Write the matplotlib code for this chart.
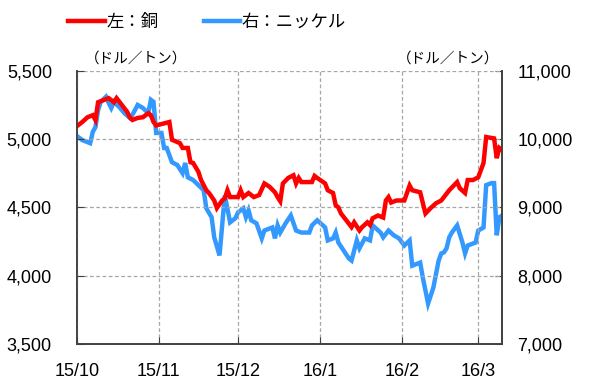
import pandas as pd
import matplotlib.pyplot as plt
from matplotlib.ticker import FuncFormatter, MultipleLocator
from matplotlib.lines import Line2D

plt.rcParams['font.family'] = ['Liberation Sans', 'Noto Sans CJK JP', 'DejaVu Sans']

# 銅 (左軸, ドル/トン)
copper_dates = [
    '2015-10-01', '2015-10-03', '2015-10-05', '2015-10-07', '2015-10-08', '2015-10-09',
    '2015-10-11', '2015-10-13', '2015-10-15', '2015-10-16', '2015-10-18', '2015-10-20',
    '2015-10-21', '2015-10-22', '2015-10-24', '2015-10-26', '2015-10-28', '2015-10-29',
    '2015-10-30', '2015-10-31', '2015-11-03', '2015-11-05', '2015-11-06', '2015-11-09',
    '2015-11-10', '2015-11-12', '2015-11-13', '2015-11-14', '2015-11-16', '2015-11-17',
    '2015-11-19', '2015-11-20', '2015-11-22', '2015-11-23', '2015-11-25', '2015-11-26',
    '2015-11-27', '2015-11-28', '2015-11-30', '2015-12-01', '2015-12-02', '2015-12-03',
    '2015-12-05', '2015-12-07', '2015-12-09', '2015-12-11', '2015-12-13', '2015-12-15',
    '2015-12-16', '2015-12-17', '2015-12-18', '2015-12-20', '2015-12-22', '2015-12-23',
    '2015-12-24', '2015-12-25', '2015-12-29', '2015-12-30', '2015-12-31', '2016-01-03',
    '2016-01-04', '2016-01-06', '2016-01-07', '2016-01-08', '2016-01-09', '2016-01-11',
    '2016-01-13', '2016-01-14', '2016-01-16', '2016-01-17', '2016-01-19', '2016-01-20',
    '2016-01-21', '2016-01-23', '2016-01-25', '2016-01-26', '2016-01-27', '2016-01-28',
    '2016-01-30', '2016-02-02', '2016-02-04', '2016-02-05', '2016-02-08', '2016-02-10',
    '2016-02-12', '2016-02-14', '2016-02-16', '2016-02-17', '2016-02-19', '2016-02-22',
    '2016-02-23', '2016-02-25', '2016-02-26', '2016-02-28', '2016-03-01', '2016-03-03',
    '2016-03-04', '2016-03-07', '2016-03-08', '2016-03-09', '2016-03-10',
]
copper = [
    5095, 5125, 5160, 5175, 5140, 5270,
    5285, 5300, 5270, 5300, 5250, 5200,
    5160, 5140, 5155, 5160, 5190, 5175,
    5125, 5100, 5115, 5125, 4995, 4970,
    4935, 4935, 4830, 4825, 4760, 4700,
    4625, 4605, 4550, 4495, 4550, 4565,
    4625, 4575, 4575, 4575, 4625, 4575,
    4605, 4575, 4590, 4675, 4650, 4610,
    4575, 4545, 4675, 4715, 4735, 4675,
    4715, 4685, 4685, 4730, 4715, 4675,
    4625, 4605, 4515, 4500, 4455, 4405,
    4355, 4390, 4330, 4355, 4390, 4370,
    4420, 4440, 4425, 4550, 4575, 4535,
    4550, 4550, 4660, 4625, 4610, 4455,
    4495, 4530, 4550, 4575, 4625, 4685,
    4640, 4605, 4700, 4700, 4720, 4825,
    5015, 5005, 4860, 4935, 4920,
]

# ニッケル (右軸, ドル/トン)
nickel_dates = [
    '2015-10-01', '2015-10-03', '2015-10-06', '2015-10-07', '2015-10-08', '2015-10-09',
    '2015-10-10', '2015-10-12', '2015-10-13', '2015-10-14', '2015-10-15', '2015-10-17',
    '2015-10-19', '2015-10-21', '2015-10-22', '2015-10-24', '2015-10-26', '2015-10-28',
    '2015-10-29', '2015-10-30', '2015-10-31', '2015-11-02', '2015-11-03', '2015-11-04',
    '2015-11-06', '2015-11-08', '2015-11-10', '2015-11-11', '2015-11-12', '2015-11-14',
    '2015-11-16', '2015-11-18', '2015-11-19', '2015-11-21', '2015-11-22', '2015-11-24',
    '2015-11-25', '2015-11-26', '2015-11-28', '2015-11-30', '2015-12-01', '2015-12-03',
    '2015-12-04', '2015-12-05', '2015-12-06', '2015-12-08', '2015-12-10', '2015-12-11',
    '2015-12-14', '2015-12-15', '2015-12-16', '2015-12-17', '2015-12-19', '2015-12-21',
    '2015-12-23', '2015-12-25', '2015-12-28', '2015-12-29', '2015-12-31', '2016-01-03',
    '2016-01-04', '2016-01-06', '2016-01-07', '2016-01-08', '2016-01-12', '2016-01-13',
    '2016-01-15', '2016-01-16', '2016-01-18', '2016-01-20', '2016-01-21', '2016-01-24',
    '2016-01-25', '2016-01-27', '2016-01-29', '2016-01-31', '2016-02-02', '2016-02-04',
    '2016-02-05', '2016-02-08', '2016-02-09', '2016-02-11', '2016-02-13', '2016-02-15',
    '2016-02-16', '2016-02-17', '2016-02-18', '2016-02-19', '2016-02-20', '2016-02-22',
    '2016-02-24', '2016-02-25', '2016-02-26', '2016-02-29', '2016-03-01', '2016-03-03',
    '2016-03-04', '2016-03-06', '2016-03-07', '2016-03-08', '2016-03-09', '2016-03-10',
]
nickel = [
    10045, 9985, 9940, 10105, 10175, 10425,
    10545, 10620, 10530, 10455, 10545, 10470,
    10380, 10310, 10355, 10500, 10455, 10380,
    10575, 10545, 10090, 10090, 9870, 9870,
    9660, 9620, 9500, 9650, 9440, 9400,
    9325, 9250, 8985, 8855, 8560, 8295,
    8735, 9175, 8780, 8840, 8925, 8985,
    8855, 8955, 8810, 8765, 8545, 8660,
    8705, 8545, 8735, 8630, 8765, 8880,
    8660, 8630, 8630, 8735, 8810, 8705,
    8515, 8545, 8630, 8485, 8250, 8220,
    8515, 8400, 8545, 8515, 8735, 8630,
    8560, 8660, 8590, 8545, 8440, 8515,
    8145, 8190, 7970, 7590, 7825, 8220,
    8325, 8340, 8400, 8560, 8630, 8735,
    8485, 8325, 8440, 8485, 8660, 8705,
    9325, 9355, 9355, 8590, 8855, 8880,
]

month_ticks = ['2015-10-01', '2015-11-01', '2015-12-01', '2016-01-01', '2016-02-01', '2016-03-01']
month_labels = ['15/10', '15/11', '15/12', '16/1', '16/2', '16/3']

red = '#ff0000'
blue = '#3399ff'

fig = plt.figure(figsize=(5.92, 3.85), dpi=100)
ax = fig.add_axes([0.130, 0.107, 0.718, 0.709])
ax2 = ax.twinx()

ax2.plot(pd.to_datetime(nickel_dates), nickel, color=blue, lw=3.2, solid_joinstyle='miter')
ax.plot(pd.to_datetime(copper_dates), copper, color=red, lw=3.2, solid_joinstyle='miter')
ax.set_zorder(ax2.get_zorder() + 1)
ax.patch.set_visible(False)

ax.set_xlim(pd.Timestamp('2015-10-01'), pd.Timestamp('2016-03-10'))
ax.set_ylim(3500, 5500)
ax2.set_ylim(7000, 11000)
ax.yaxis.set_major_locator(MultipleLocator(500))
ax2.yaxis.set_major_locator(MultipleLocator(1000))
fmt = FuncFormatter(lambda v, p: f'{v:,.0f}')
ax.yaxis.set_major_formatter(fmt)
ax2.yaxis.set_major_formatter(fmt)

ax.set_xticks(pd.to_datetime(month_ticks))
ax.set_xticklabels(month_labels)

ax.grid(True, linestyle=(0, (3, 2)), color='#a6a6a6', lw=0.9)
ax.set_axisbelow(True)

for a in (ax, ax2):
    a.spines['top'].set_visible(False)
    for s in ('left', 'right', 'bottom'):
        a.spines[s].set_color('#404040')
        a.spines[s].set_linewidth(1.2)
ax.tick_params(axis='y', direction='in', length=5, pad=18, labelsize=13, colors='#404040', labelcolor='black')
ax2.tick_params(axis='y', direction='in', length=5, pad=11, labelsize=13, colors='#404040', labelcolor='black')
ax.tick_params(axis='x', direction='in', length=5, pad=14, labelsize=13, colors='#404040', labelcolor='black')

# 単位
fig.text(0.143, 0.848, '（ドル／トン）', fontsize=10.5, family=['Noto Sans CJK JP'], va='center')
fig.text(0.843, 0.848, '（ドル／トン）', fontsize=10.5, family=['Noto Sans CJK JP'], va='center', ha='right')

# 凡例
handles = [Line2D([], [], color=red, lw=3.2), Line2D([], [], color=blue, lw=3.2)]
leg = fig.legend(handles, ['左：銅', '右：ニッケル'], loc='center', bbox_to_anchor=(0.35, 0.943),
                 ncol=2, frameon=False, handlelength=2.1, handletextpad=0.1, columnspacing=2.6,
                 prop={'family': 'Noto Sans CJK JP', 'size': 12.5})

fig.savefig('out.png', dpi=100)
